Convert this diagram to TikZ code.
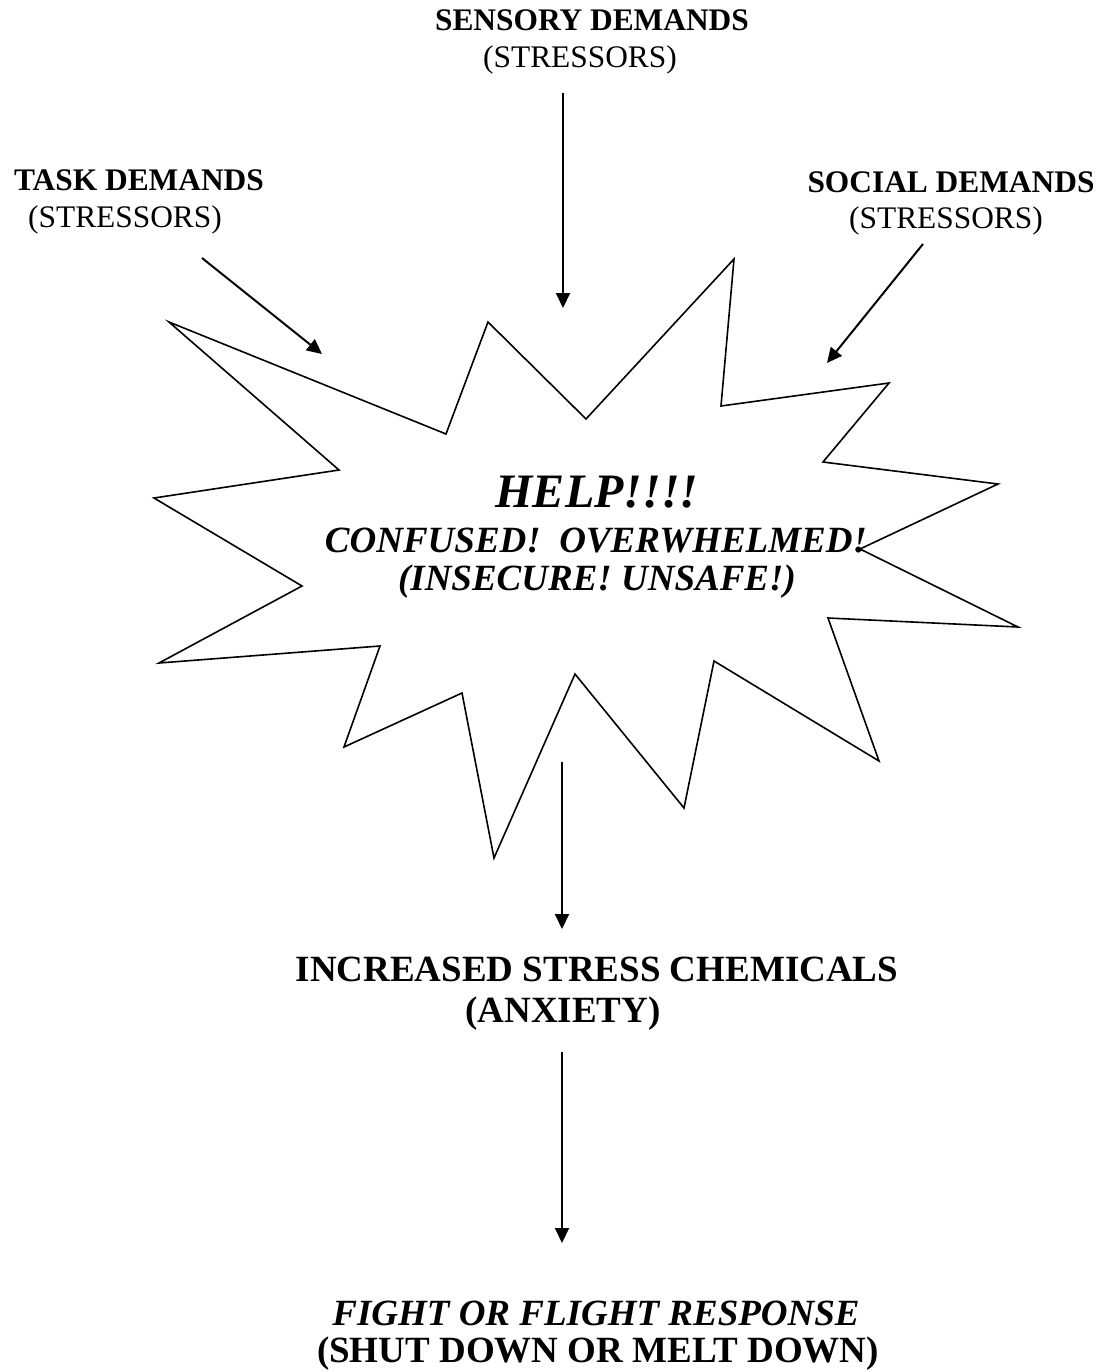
\documentclass[tikz,border=0pt]{standalone}
\usepackage{fontspec}
\setmainfont{Liberation Serif}
\usetikzlibrary{arrows.meta}
\begin{document}
\begin{tikzpicture}[x=0.5pt,y=-0.5pt,
  lbl/.style={anchor=base,inner sep=0pt,font=\fontsize{15.7pt}{18pt}\selectfont},
  lblb/.style={lbl,font=\fontsize{15.7pt}{18pt}\selectfont\bfseries},
  big/.style={anchor=base,inner sep=0pt,font=\fontsize{18.5pt}{22pt}\selectfont\bfseries},
  bigi/.style={big,font=\fontsize{18.5pt}{22pt}\selectfont\bfseries\itshape},
  help/.style={anchor=base,inner sep=0pt,font=\fontsize{24pt}{28pt}\selectfont\bfseries\itshape},
  arr/.style={line width=1pt,-{Triangle[length=7.5pt,width=7pt]}},
  burst/.style={line width=0.8pt,line join=miter}]
\useasboundingbox (0,0) rectangle (1111,1372);
% labels
\node[lblb] (sens) at (592,30) {SENSORY DEMANDS};
\node[lbl] (sensS) at (580,67) {(STRESSORS)};
\node[lblb] (task) at (139,190) {TASK DEMANDS};
\node[lbl] (taskS) at (125,227) {(STRESSORS)};
\node[lblb] (soc) at (951,192) {SOCIAL DEMANDS};
\node[lbl] (socS) at (946,228) {(STRESSORS)};
% starburst
\draw[burst] (169,322) -- (446,434) -- (488,322) -- (586,419) -- (734,259) -- (721,406)
  -- (889,383) -- (823,462) -- (998,484) -- (860,549) -- (1018,627) -- (828,618)
  -- (879,761) -- (714,661) -- (684,808) -- (575,674) -- (494,858) -- (462,693)
  -- (344,747) -- (380,646) -- (159,663) -- (302,586) -- (154,498) -- (339,470) -- cycle;
\node[help] (help) at (597,507) {HELP!!!!};
\node[bigi] (conf) at (596,552) {CONFUSED!\ \ OVERWHELMED!};
\node[bigi] (insec) at (597,590) {(INSECURE! UNSAFE!)};
% lower texts
\node[big] (incr) at (597,981) {INCREASED STRESS CHEMICALS};
\node[big] (anx) at (563,1022) {(ANXIETY)};
\node[bigi] (fight) at (596,1325) {FIGHT OR FLIGHT RESPONSE};
\node[big] (shut) at (598,1362) {(SHUT DOWN OR MELT DOWN)};
% arrow end points
\coordinate (a1s) at (563,93);
\coordinate (a1e) at (563,308);
\coordinate (a2s) at (202,258);
\coordinate (a2e) at (322,354);
\coordinate (a3s) at (923,244);
\coordinate (a3e) at (827,363);
\coordinate (a4s) at (562,762);
\coordinate (a4e) at (562,929);
\coordinate (a5s) at (562,1052);
\coordinate (a5e) at (562,1243);
\draw[arr] (a1s) -- (a1e);
\draw[arr] (a2s) -- (a2e);
\draw[arr] (a3s) -- (a3e);
\draw[arr] (a4s) -- (a4e);
\draw[arr] (a5s) -- (a5e);
\end{tikzpicture}
\end{document}
